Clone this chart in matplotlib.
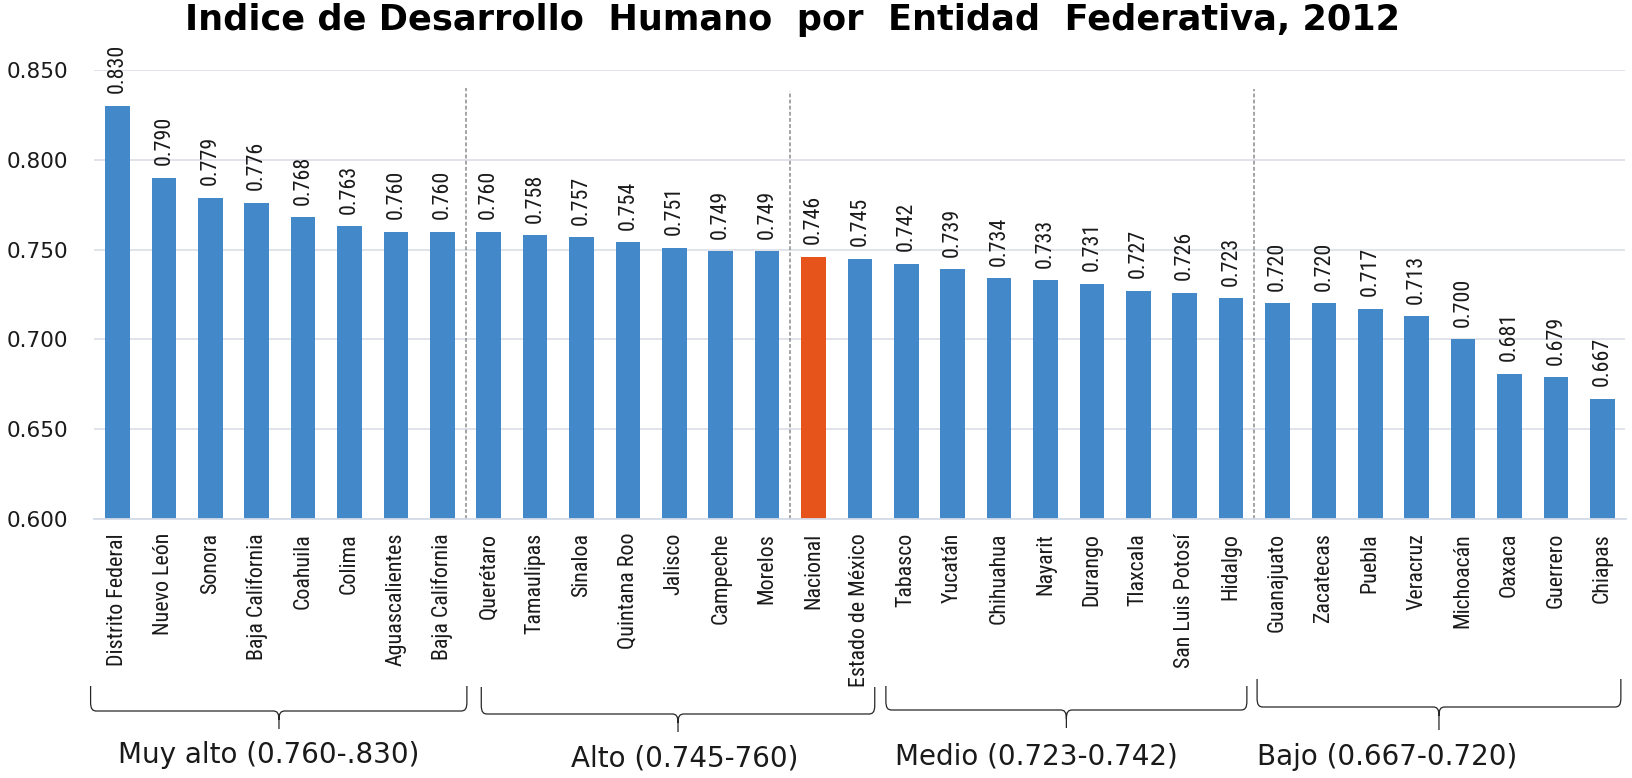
import matplotlib
matplotlib.use('Agg')
import matplotlib.pyplot as plt
from matplotlib import font_manager
from matplotlib.path import Path
from matplotlib.patches import PathPatch
from matplotlib.transforms import blended_transform_factory
import numpy as np

# - DATA -
estados = ['Distrito Federal', 'Nuevo León', 'Sonora', 'Baja California', 'Coahuila',
           'Colima', 'Aguascalientes', 'Baja California', 'Querétaro', 'Tamaulipas',
           'Sinaloa', 'Quintana Roo', 'Jalisco', 'Campeche', 'Morelos', 'Nacional',
           'Estado de México', 'Tabasco', 'Yucatán', 'Chihuahua', 'Nayarit', 'Durango',
           'Tlaxcala', 'San Luis Potosí', 'Hidalgo', 'Guanajuato', 'Zacatecas', 'Puebla',
           'Veracruz', 'Michoacán', 'Oaxaca', 'Guerrero', 'Chiapas']
idh = [0.830, 0.790, 0.779, 0.776, 0.768, 0.763, 0.760, 0.760, 0.760, 0.758, 0.757,
       0.754, 0.751, 0.749, 0.749, 0.746, 0.745, 0.742, 0.739, 0.734, 0.733, 0.731,
       0.727, 0.726, 0.723, 0.720, 0.720, 0.717, 0.713, 0.700, 0.681, 0.679, 0.667]
resaltado = 'Nacional'
grupos = ['Muy alto (0.760-.830)', 'Alto (0.745-760)', 'Medio (0.723-0.742)', 'Bajo (0.667-0.720)']
yticks = [0.600, 0.650, 0.700, 0.750, 0.800, 0.850]
titulo = 'Indice de Desarrollo  Humano  por  Entidad  Federativa, 2012'
# - DATA -

# - LAYOUT -
W, H = 1633, 778
separadores = [7.5, 14.5, 24.5]
sep_top = [0.840, 0.8385, 0.8395]
# brace: x0, x1, tip x (data), top, mid, tip y (pixels from top)
llaves = [(-0.58, 7.53, 3.48, 686, 711, 729),
          (7.84, 16.32, 12.08, 687, 714, 732),
          (16.56, 24.34, 20.45, 686, 710, 728),
          (24.56, 32.40, 28.48, 679, 707, 730)]
texto_x = [3.26, 12.23, 19.8, 27.36]
texto_y = [755, 758, 756, 757]
# - LAYOUT -

# pick a narrow face for the rotated labels if one is installed
entries = font_manager.fontManager.ttflist
names = {f.name for f in entries}
narrow, stretch = 'DejaVu Sans', 'normal'
for c in ['Liberation Sans Narrow', 'DejaVu Sans Condensed', 'Roboto Condensed',
          'Open Sans Condensed', 'Noto Sans Condensed', 'Arial Narrow']:
    if c in names:
        narrow = c
        break
else:
    for f in entries:
        if f.name in ('Noto Sans', 'Open Sans', 'Roboto') and str(f.stretch) in ('condensed', '300', 'semi-condensed', '400'):
            if str(f.stretch) in ('condensed', '300'):
                narrow, stretch = f.name, 'condensed'
                break

fig = plt.figure(figsize=(W / 100, H / 100), dpi=100)
rend = fig.canvas.get_renderer()


def fit(s, target, **kw):
    t = fig.text(0, 0, s, fontsize=10, **kw)
    w = t.get_window_extent(rend).width
    t.remove()
    return 10 * target / w


nsize = fit('Distrito Federal', 132, family=narrow, fontstretch=stretch)
tsize = fit(titulo, 1216, fontweight='bold')
gsize = fit(grupos[0], 300)

blue, orange = '#4389C9', '#E6541C'
grid_c = '#dde1e8'
txt_c = '#1a1a1a'

ax = fig.add_axes([94.3 / W, 1 - 519 / H, 1531.2 / W, 449 / H])

x = np.arange(len(estados))
colores = [orange if e == resaltado else blue for e in estados]
ax.bar(x, idh, width=0.53, color=colores, zorder=2)

ax.set_xlim(-0.5, len(estados) - 0.5)
ax.set_ylim(0.6, 0.85)
ax.set_yticks(yticks)
ax.set_yticklabels([f'{v:.3f}' for v in yticks], fontsize=15.5, color=txt_c)
ax.tick_params(axis='y', length=0, pad=19)
ax.set_xticks(x)
ax.set_xticklabels(estados, rotation=90, fontsize=nsize, family=narrow,
                   fontstretch=stretch, color=txt_c)
ax.tick_params(axis='x', length=0, pad=10)
ax.grid(axis='y', color=grid_c, lw=1.3, zorder=0)
ax.set_axisbelow(True)
for s in ['top', 'right', 'left']:
    ax.spines[s].set_visible(False)
ax.spines['bottom'].set_color('#d4dce8')
ax.spines['bottom'].set_linewidth(1.3)
ax.spines['bottom'].set_zorder(3)

for xi, v in zip(x, idh):
    ax.annotate(f'{v:.3f}', (xi, v), xytext=(0, 9), textcoords='offset points',
                rotation=90, ha='center', va='bottom', fontsize=nsize,
                family=narrow, fontstretch=stretch, color=txt_c)

ax.vlines(separadores, 0.6, sep_top, colors='#8c8c8c', lw=1.1,
          linestyles=(0, (2.5, 1.5)), zorder=3)

# braces under the category labels
tr = blended_transform_factory(ax.transData, fig.transFigure)
fy = lambda p: 1 - p / H
for (x0, x1, xm, yt, ym, yp), g, tx, ty in zip(llaves, grupos, texto_x, texto_y):
    d = 0.13
    verts = [(x0, fy(yt)), (x0, fy(ym - 9)),
             (x0, fy(ym - 2)), (x0 + d * 0.3, fy(ym)), (x0 + d, fy(ym)),
             (xm - d, fy(ym)),
             (xm - d * 0.3, fy(ym)), (xm, fy(ym + 2)), (xm, fy(ym + 9)),
             (xm, fy(yp)),
             (xm, fy(ym + 9)),
             (xm, fy(ym + 2)), (xm + d * 0.3, fy(ym)), (xm + d, fy(ym)),
             (x1 - d, fy(ym)),
             (x1 - d * 0.3, fy(ym)), (x1, fy(ym - 2)), (x1, fy(ym - 9)),
             (x1, fy(yt))]
    codes = [Path.MOVETO, Path.LINETO,
             Path.CURVE4, Path.CURVE4, Path.CURVE4,
             Path.LINETO,
             Path.CURVE4, Path.CURVE4, Path.CURVE4,
             Path.LINETO,
             Path.MOVETO,
             Path.CURVE4, Path.CURVE4, Path.CURVE4,
             Path.LINETO,
             Path.CURVE4, Path.CURVE4, Path.CURVE4,
             Path.LINETO]
    ax.add_patch(PathPatch(Path(verts, codes), transform=tr, fill=False,
                           edgecolor='#262626', lw=0.9, clip_on=False))
    ax.text(tx, fy(ty), g, transform=tr, ha='center', va='center',
            fontsize=gsize, color=txt_c)

fig.text(793 / W, fy(30), titulo, ha='center', va='baseline',
         fontsize=tsize, fontweight='bold', color='black')

fig.savefig('out.png', dpi=100)
